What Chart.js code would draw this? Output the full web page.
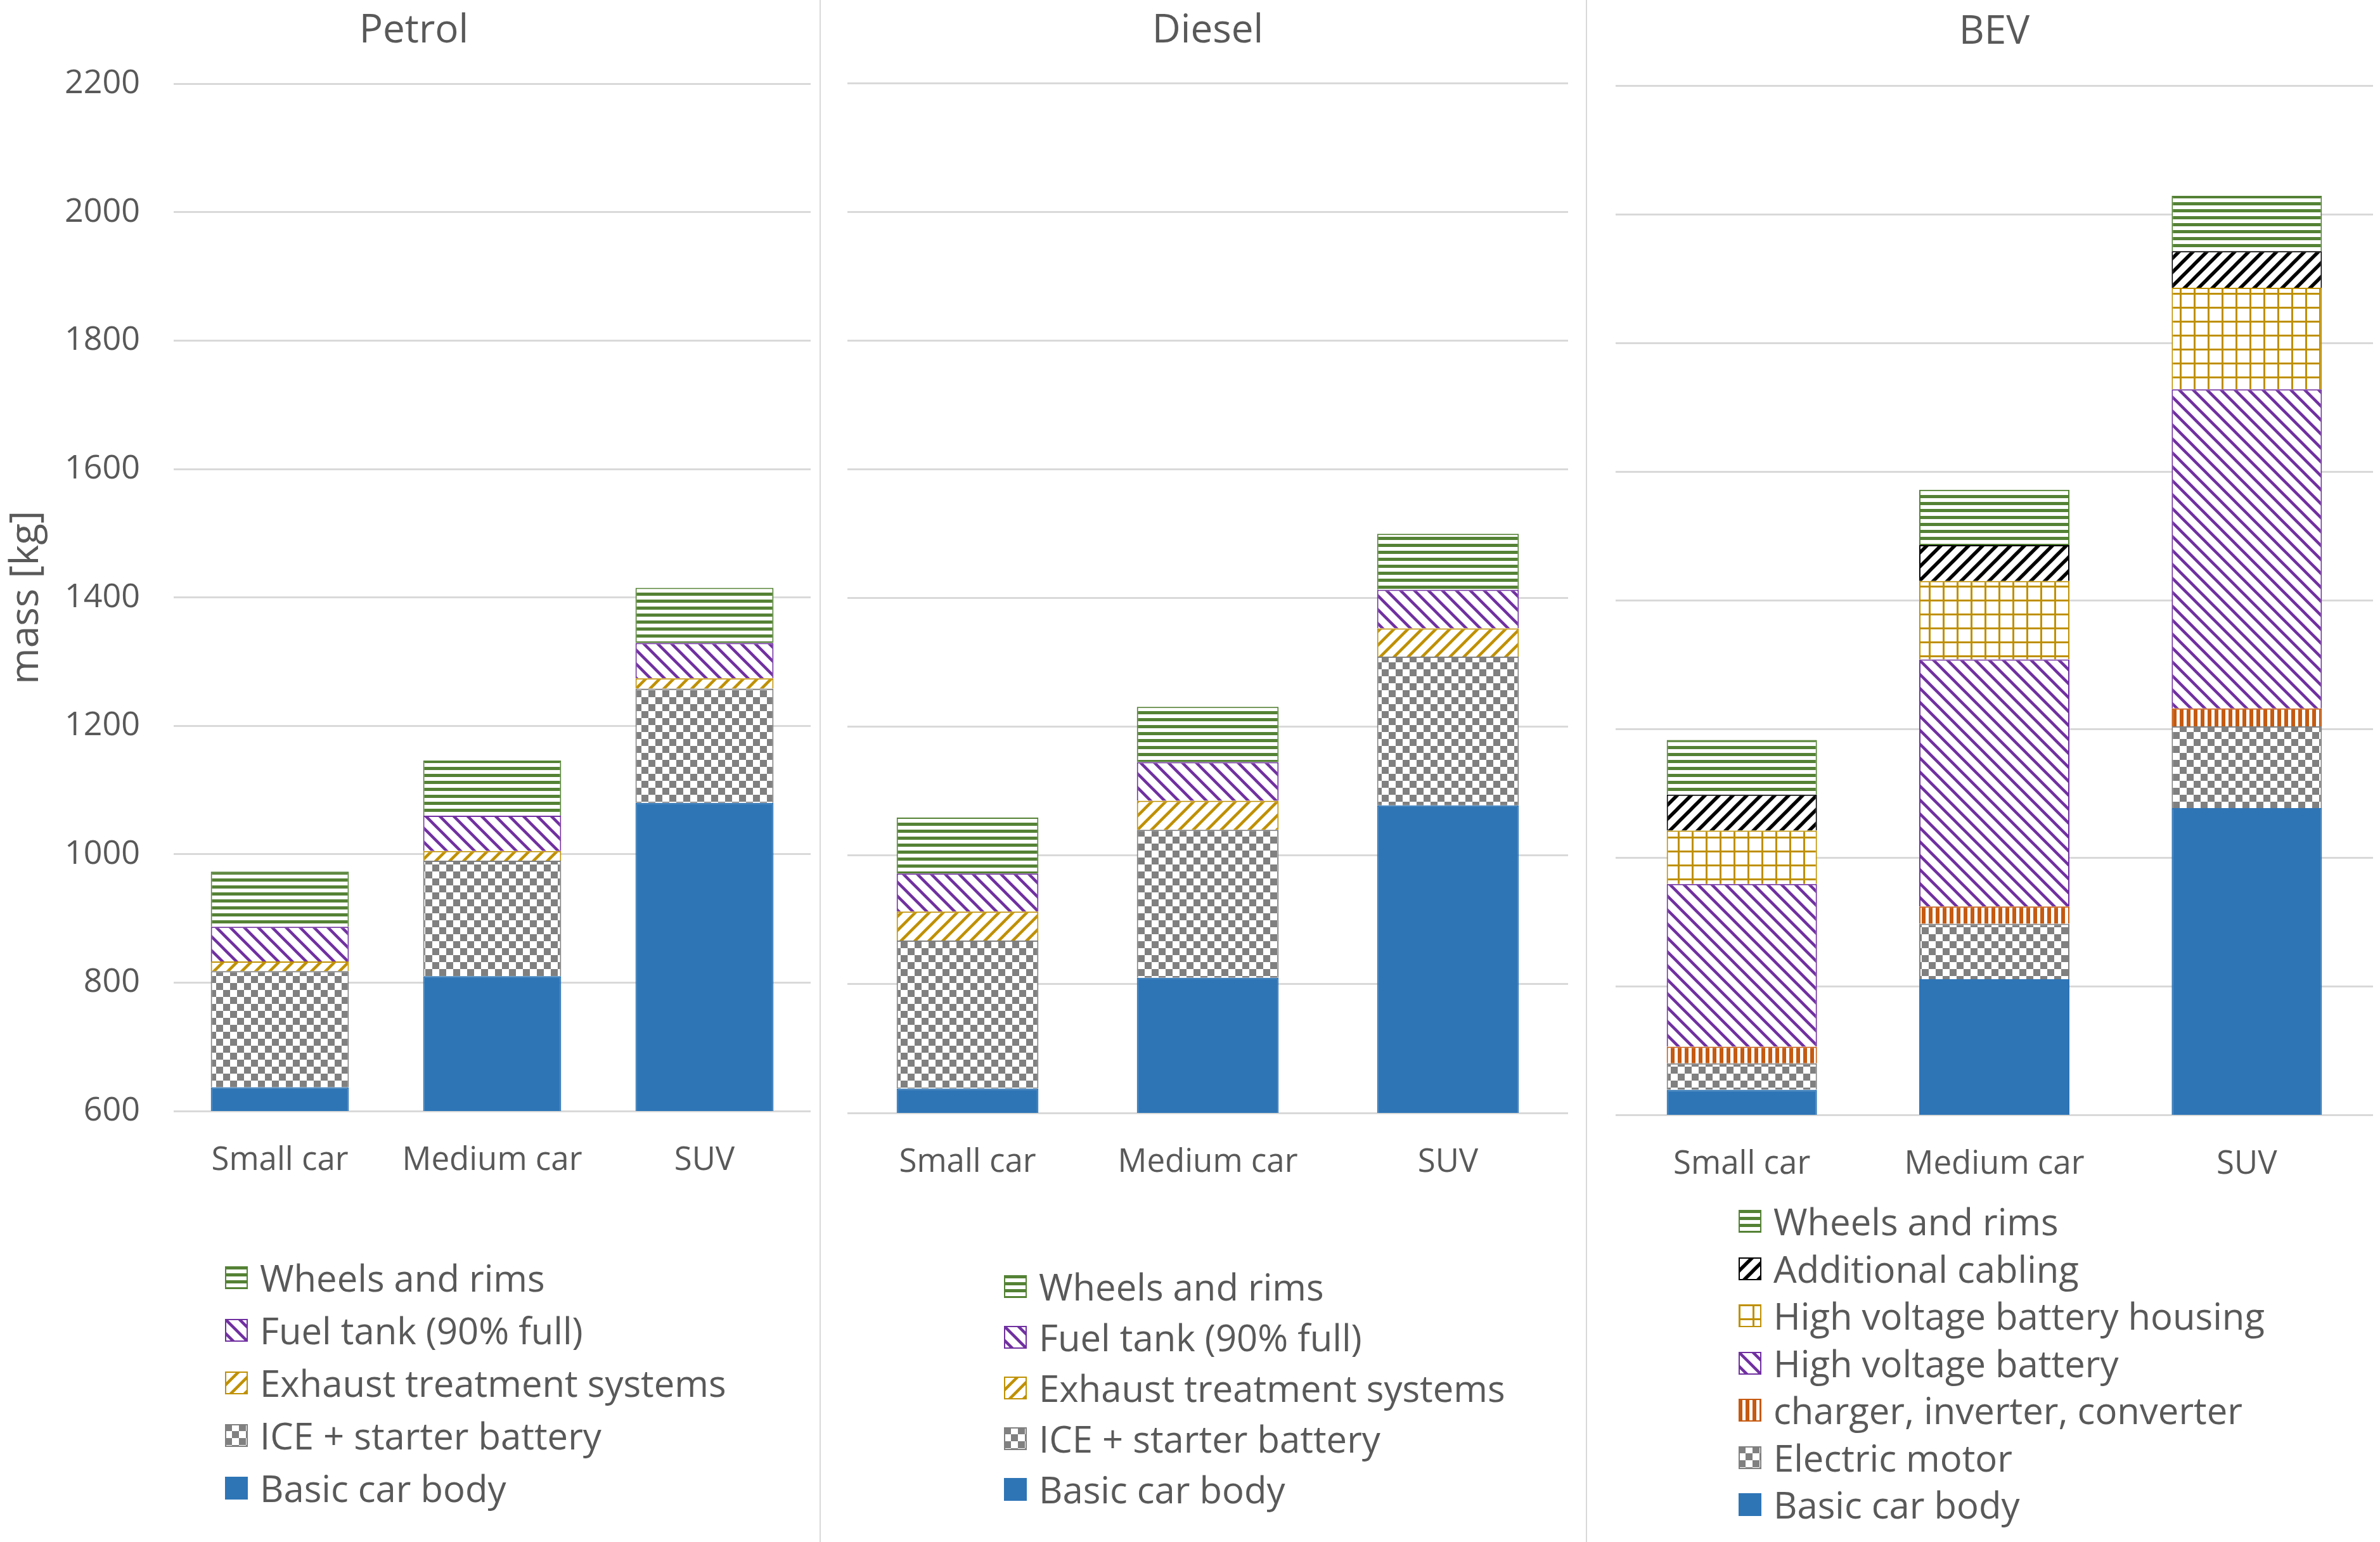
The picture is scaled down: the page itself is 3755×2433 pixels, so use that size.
<!DOCTYPE html>
<html>
<head>
<meta charset="utf-8">
<title>Vehicle mass breakdown</title>
<script src="https://cdn.jsdelivr.net/npm/chart.js@4.4.1/dist/chart.umd.min.js"></script>
<style>
    body { margin: 0; background: #fff; width: 3755px; height: 2433px; position: relative; overflow: hidden; font-family: "Open Sans", sans-serif; }
    canvas { position: absolute; top: 0; }
    .sep { position: absolute; top: 0; width: 2px; height: 2433px; background: #d9d9d9; }
    .legend { position: absolute; color: #595959; font-size: 58px; line-height: 1; }
    .legend .item { position: absolute; left: 0; display: flex; align-items: center; white-space: nowrap; transform: translateY(-50%); }
    .legend canvas { position: static; margin-right: 19px; }
</style>
</head>
<body>
<div class="sep" style="left:1293px"></div>
<div class="sep" style="left:2502px"></div>
<canvas id="petrolChart" width="1300" height="1900" style="left:0px"></canvas>
<canvas id="dieselChart" width="1212" height="1900" style="left:1300px"></canvas>
<canvas id="bevChart" width="1218" height="1900" style="left:2537px"></canvas>
<div class="legend" id="petrolLegend" style="left:355px; top:2016px"></div>
<div class="legend" id="dieselLegend" style="left:1584px; top:2030px"></div>
<div class="legend" id="bevLegend" style="left:2743px; top:1927px"></div>

<script>
const categories = ['Small car', 'Medium car', 'SUV'];
const yMin = 600;
const yMax = 2200;
const yStep = 200;

// Petrol (kg)
const petrolBody = [637, 810, 1080];
const petrolIce = [181, 180, 178];
const petrolExhaust = [15, 15, 16];
const petrolFuel = [54, 55, 55];
const petrolWheels = [86, 86, 86];

// Diesel (kg)
const dieselBody = [638, 810, 1078];
const dieselIce = [230, 230, 231];
const dieselExhaust = [45, 45, 44];
const dieselFuel = [59, 60, 60];
const dieselWheels = [87, 86, 87];

// BEV (kg)
const bevBody = [639, 811, 1077];
const bevMotor = [41, 86, 127];
const bevCharger = [26, 27, 28];
const bevBattery = [253, 384, 496];
const bevHousing = [83, 122, 158];
const bevCabling = [56, 56, 57];
const bevWheels = [85, 86, 86];

const textColor = '#595959';
const gridColor = '#d9d9d9';

Chart.defaults.font.family = '"Open Sans", sans-serif';
Chart.defaults.color = textColor;

// excel-like hatch fills
function makePattern(kind, color) {
    if (kind === 'solid') return color;
    const s = (kind === 'hlines' || kind === 'vlines') ? 11 : 22;
    const c = document.createElement('canvas');
    c.width = s;
    c.height = s;
    const ctx = c.getContext('2d');
    ctx.fillStyle = '#fff';
    ctx.fillRect(0, 0, s, s);
    ctx.fillStyle = color;
    ctx.strokeStyle = color;
    if (kind === 'hlines') {
        ctx.fillRect(0, 0, s, 5);
    } else if (kind === 'vlines') {
        ctx.fillRect(0, 0, 6, s);
    } else if (kind === 'checker') {
        ctx.fillRect(0, 0, 11, 11);
        ctx.fillRect(11, 11, 11, 11);
    } else if (kind === 'grid') {
        ctx.fillRect(0, 0, s, 3);
        ctx.fillRect(0, 0, 3, s);
    } else if (kind === 'down' || kind === 'up' || kind === 'upBold') {
        ctx.lineWidth = kind === 'upBold' ? 5.5 : 4.5;
        for (let k = -1; k <= 1; k++) {
            ctx.beginPath();
            if (kind === 'down') {
                ctx.moveTo(k * s - 3, -3);
                ctx.lineTo(k * s + s + 3, s + 3);
            } else {
                ctx.moveTo(k * s - 3, s + 3);
                ctx.lineTo(k * s + s + 3, -3);
            }
            ctx.stroke();
        }
    }
    return ctx.createPattern(c, 'repeat');
}

const styles = {
    body: { kind: 'solid', color: '#2e75b6' },
    ice: { kind: 'checker', color: '#808080' },
    exhaust: { kind: 'up', color: '#bf9000' },
    fuel: { kind: 'down', color: '#7030a0' },
    wheels: { kind: 'hlines', color: '#548235' },
    charger: { kind: 'vlines', color: '#c55a11' },
    housing: { kind: 'grid', color: '#bf9000' },
    cabling: { kind: 'upBold', color: '#000000' }
};

function series(label, data, styleKey) {
    const st = styles[styleKey];
    return {
        label: label,
        data: data,
        backgroundColor: makePattern(st.kind, st.color),
        borderColor: st.color,
        borderWidth: 2,
        swatchKind: st.kind,
        swatchColor: st.color
    };
}

function makeChart(canvasId, legendId, title, datasets, opts) {
    const chart = new Chart(document.getElementById(canvasId), {
        type: 'bar',
        data: { labels: categories, datasets: datasets },
        options: {
            responsive: false,
            animation: false,
            devicePixelRatio: 1,
            layout: { padding: { left: opts.padLeft, right: opts.padRight, top: 0, bottom: 0 } },
            datasets: { bar: { categoryPercentage: opts.catPct, barPercentage: 1 } },
            plugins: {
                legend: { display: false },
                tooltip: { enabled: false },
                title: {
                    display: true,
                    text: title,
                    color: textColor,
                    font: { size: 62, weight: 'normal' },
                    padding: { top: opts.titleTop, bottom: opts.titleBottom }
                }
            },
            scales: {
                x: {
                    stacked: true,
                    grid: { display: false },
                    border: { display: false },
                    ticks: { font: { size: 51 }, color: textColor, padding: opts.xPad },
                    afterFit: (scale) => { scale.height = opts.xHeight; }
                },
                y: {
                    stacked: true,
                    min: yMin,
                    max: yMax,
                    grid: { color: gridColor, lineWidth: 3, drawTicks: false },
                    border: { display: false },
                    ticks: {
                        display: opts.showY,
                        stepSize: yStep,
                        font: { size: 52 },
                        color: textColor,
                        padding: 53,
                        callback: (v) => String(v)
                    },
                    title: {
                        display: opts.showY,
                        text: 'mass [kg]',
                        color: textColor,
                        font: { size: 62, lineHeight: 0.5 },
                        padding: { top: 0, bottom: 0 }
                    },
                    afterFit: (scale) => { scale.width = opts.yWidth; }
                }
            }
        }
    });

    // html legend, top item first like the original
    const box = document.getElementById(legendId);
    datasets.slice().reverse().forEach((ds, i) => {
        const item = document.createElement('div');
        item.className = 'item';
        item.style.top = (i * opts.legendStep) + 'px';
        const sw = document.createElement('canvas');
        sw.width = 36;
        sw.height = 36;
        const sctx = sw.getContext('2d');
        sctx.fillStyle = makePattern(ds.swatchKind, ds.swatchColor);
        sctx.fillRect(0, 0, 36, 36);
        sctx.strokeStyle = ds.swatchColor;
        sctx.lineWidth = 2;
        sctx.strokeRect(1, 1, 34, 34);
        const txt = document.createElement('span');
        txt.textContent = ds.label;
        item.appendChild(sw);
        item.appendChild(txt);
        box.appendChild(item);
    });
    return chart;
}

makeChart('petrolChart', 'petrolLegend', 'Petrol', [
    series('Basic car body', petrolBody, 'body'),
    series('ICE + starter battery', petrolIce, 'ice'),
    series('Exhaust treatment systems', petrolExhaust, 'exhaust'),
    series('Fuel tank (90% full)', petrolFuel, 'fuel'),
    series('Wheels and rims', petrolWheels, 'wheels')
], { padLeft: 27, padRight: 21, catPct: 0.65, titleTop: 12, titleBottom: 46, xHeight: 147, xPad: 40, showY: true, yWidth: 247, legendStep: 83 });

makeChart('dieselChart', 'dieselLegend', 'Diesel', [
    series('Basic car body', dieselBody, 'body'),
    series('ICE + starter battery', dieselIce, 'ice'),
    series('Exhaust treatment systems', dieselExhaust, 'exhaust'),
    series('Fuel tank (90% full)', dieselFuel, 'fuel'),
    series('Wheels and rims', dieselWheels, 'wheels')
], { padLeft: 37, padRight: 38, catPct: 0.59, titleTop: 12, titleBottom: 45, xHeight: 144, xPad: 40, showY: false, yWidth: 0, legendStep: 80 });

makeChart('bevChart', 'bevLegend', 'BEV', [
    series('Basic car body', bevBody, 'body'),
    series('Electric motor', bevMotor, 'ice'),
    series('charger, inverter, converter', bevCharger, 'charger'),
    series('High voltage battery', bevBattery, 'fuel'),
    series('High voltage battery housing', bevHousing, 'housing'),
    series('Additional cabling', bevCabling, 'cabling'),
    series('Wheels and rims', bevWheels, 'wheels')
], { padLeft: 12, padRight: 11, catPct: 0.595, titleTop: 14, titleBottom: 47, xHeight: 141, xPad: 40, showY: false, yWidth: 0, legendStep: 74.5 });
</script>
</body>
</html>
